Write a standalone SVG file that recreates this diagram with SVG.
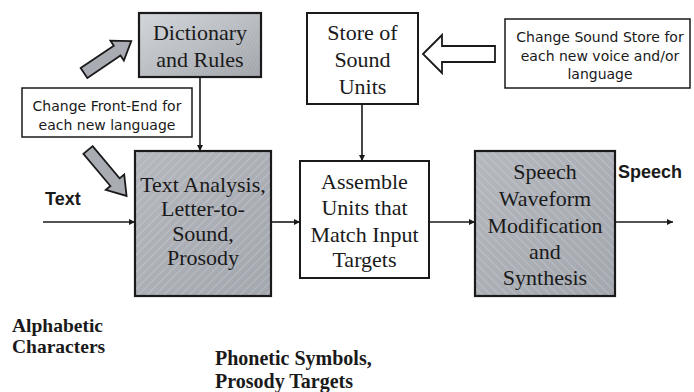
<svg xmlns="http://www.w3.org/2000/svg" width="694" height="392" viewBox="0 0 694 392">
<defs>
<style>
.box{stroke:#1a1a1a;stroke-width:2.2}
.wbox{fill:#fff;stroke:#1a1a1a;stroke-width:2}
.nbox{fill:#fff;stroke:#1a1a1a;stroke-width:1.5}
.serif{font-family:"Liberation Serif","Times New Roman",serif;font-size:22px;fill:#1a1a1a;text-anchor:middle}
.sans{font-family:"DejaVu Sans",Verdana,sans-serif;font-size:14px;fill:#1a1a1a;text-anchor:middle}
.bsans{font-family:"Liberation Sans",Arial,sans-serif;font-size:18px;font-weight:bold;fill:#1a1a1a}
.bserif{font-family:"Liberation Serif","Times New Roman",serif;font-size:19.5px;font-weight:bold;fill:#1a1a1a}
.line{stroke:#1a1a1a;stroke-width:1.6;fill:none}
.blk{fill:#a9adb3;stroke:#1a1a1a;stroke-width:1.8;stroke-linejoin:miter}
</style>
<marker id="ah" viewBox="0 0 10 10" refX="10" refY="5" markerWidth="6" markerHeight="6" markerUnits="userSpaceOnUse" orient="auto">
<path d="M0,0 L10,5 L0,10 z" fill="#1a1a1a"/>
</marker>
<linearGradient id="g1" x1="0" y1="0" x2="1" y2="1">
<stop offset="0" stop-color="#d2d5d9"/>
<stop offset="1" stop-color="#a0a4aa"/>
</linearGradient>
<linearGradient id="g2" x1="0" y1="0" x2="1" y2="1">
<stop offset="0" stop-color="#b5b8be"/>
<stop offset="1" stop-color="#a3a7ae"/>
</linearGradient>
<pattern id="h1" width="6" height="6" patternUnits="userSpaceOnUse" patternTransform="rotate(45)">
<line x1="0" y1="0" x2="0" y2="6" stroke="#e6e8eb" stroke-width="0.8" opacity="0.7"/>
</pattern>
<pattern id="h2" width="6" height="6" patternUnits="userSpaceOnUse" patternTransform="rotate(-45)">
<line x1="0" y1="0" x2="0" y2="6" stroke="#e6e8eb" stroke-width="0.8" opacity="0.7"/>
</pattern>
<pattern id="h3" width="3" height="3" patternUnits="userSpaceOnUse" patternTransform="rotate(30)">
<line x1="0" y1="0" x2="0" y2="3" stroke="#e8eaec" stroke-width="0.5" opacity="0.5"/>
</pattern>
</defs>
<rect width="694" height="392" fill="#fff"/>

<g id="dictionary">
<rect x="139" y="13" width="122" height="64" fill="url(#g1)" class="box"/>
<rect x="140" y="14" width="120" height="62" fill="url(#h3)"/>
<text class="serif" x="200" y="40">Dictionary</text>
<text class="serif" x="200" y="67">and Rules</text>
</g>

<g id="store">
<rect x="307" y="13" width="111" height="91" class="wbox"/>
<text class="serif" x="362.5" y="40">Store of</text>
<text class="serif" x="362.5" y="67">Sound</text>
<text class="serif" x="362.5" y="94">Units</text>
</g>

<g id="change-front-end">
<rect x="22" y="88" width="170" height="49" class="nbox"/>
<text class="sans" x="107" y="111">Change Front-End for</text>
<text class="sans" x="107" y="130">each new language</text>
</g>

<g id="change-sound-store">
<rect x="505" y="19" width="185" height="69" class="nbox"/>
<text class="sans" x="600" y="42">Change Sound Store for</text>
<text class="sans" x="600" y="61">each new voice and/or</text>
<text class="sans" x="600" y="79">language</text>
</g>

<g id="text-analysis">
<rect x="135" y="151" width="136" height="145" fill="url(#g2)" class="box"/>
<rect x="136" y="152" width="134" height="143" fill="url(#h1)"/>
<text class="serif" x="203" y="192">Text Analysis,</text>
<text class="serif" x="203" y="216">Letter-to-</text>
<text class="serif" x="203" y="241">Sound,</text>
<text class="serif" x="203" y="265">Prosody</text>
</g>

<g id="assemble">
<rect x="300" y="161" width="129" height="117" class="wbox"/>
<text class="serif" x="364.5" y="189">Assemble</text>
<text class="serif" x="364.5" y="215">Units that</text>
<text class="serif" x="364.5" y="242">Match Input</text>
<text class="serif" x="364.5" y="267">Targets</text>
</g>

<g id="speech-synthesis">
<rect x="475" y="151" width="140" height="145" fill="url(#g2)" class="box"/>
<rect x="476" y="152" width="138" height="143" fill="url(#h2)"/>
<text class="serif" x="545" y="179">Speech</text>
<text class="serif" x="545" y="206">Waveform</text>
<text class="serif" x="545" y="233">Modification</text>
<text class="serif" x="545" y="259">and</text>
<text class="serif" x="545" y="285">Synthesis</text>
</g>

<g id="labels">
<text class="bsans" x="45" y="205">Text</text>
<text class="bsans" x="618" y="178">Speech</text>
<text class="bserif" x="12" y="332">Alphabetic</text>
<text class="bserif" x="12" y="353">Characters</text>
<text class="bserif" x="215" y="365" style="font-size:20px">Phonetic Symbols,</text>
<text class="bserif" x="215" y="388" style="font-size:20px">Prosody Targets</text>
</g>

<g id="connectors">
<line class="line" x1="43" y1="222" x2="135" y2="222" marker-end="url(#ah)"/>
<line class="line" x1="271" y1="222" x2="300" y2="222" marker-end="url(#ah)"/>
<line class="line" x1="429" y1="222" x2="475" y2="222" marker-end="url(#ah)"/>
<line class="line" x1="615" y1="222" x2="673" y2="222" marker-end="url(#ah)"/>
<line class="line" x1="200" y1="78" x2="200" y2="151" marker-end="url(#ah)"/>
<line class="line" x1="362" y1="104" x2="362" y2="161" marker-end="url(#ah)"/>
<polygon class="blk" transform="translate(84,73) rotate(-34)" points="0,-6 40,-6 40,-12 57,0 40,12 40,6 0,6"/>
<polygon class="blk" transform="translate(88,150) rotate(50)" points="0,-6 42,-6 42,-12 60,0 42,12 42,6 0,6"/>
<polygon fill="#fff" stroke="#1a1a1a" stroke-width="1.8" points="423,54 442,35 442,46 495,46 495,62 442,62 442,73"/>
</g>
</svg>
